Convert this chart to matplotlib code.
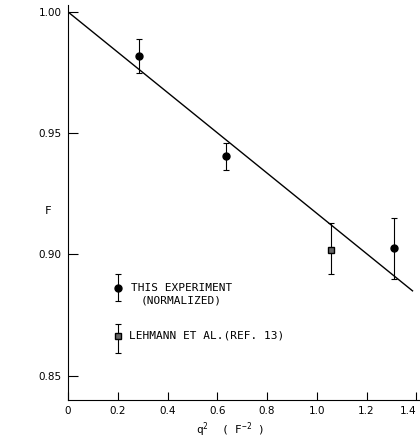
import numpy as np
import matplotlib
matplotlib.use('Agg')
import matplotlib.pyplot as plt

# data
exp_q2 = [0.285, 0.635, 1.309]
exp_F = [0.982, 0.9405, 0.9025]
exp_lo = [0.975, 0.935, 0.890]
exp_hi = [0.989, 0.946, 0.915]

leh_q2 = [1.056]
leh_F = [0.902]
leh_lo = [0.892]
leh_hi = [0.913]

# fitted line F = 1 - b*q^2
fit_q2 = [0.0, 1.385]
fit_F = [1.000, 0.885]

# legend markers drawn inside the plot
key_q2 = 0.2
key_exp = (0.886, 0.881, 0.892)  # value, low, high
key_leh = (0.8665, 0.8595, 0.8715)

plt.rcParams['font.family'] = ['DejaVu Sans']
fig = plt.figure(figsize=(4.2, 4.37), dpi=100)
ax = fig.add_axes([0.162, 0.0847, 0.835, 0.9046])

ax.plot(fit_q2, fit_F, color='black', lw=1.0)

def ebar(x, y, lo, hi, **kw):
    ax.errorbar(x, y, yerr=[np.array(y) - np.array(lo), np.array(hi) - np.array(y)],
                fmt='none', ecolor='black', elinewidth=0.8, capsize=2.5, capthick=0.8)
    ax.plot(x, y, linestyle='none', **kw)

circ = dict(marker='o', markersize=5, color='black')
sq = dict(marker='s', markersize=4.5, markerfacecolor='#666666', markeredgecolor='black', markeredgewidth=1.0)

ebar(exp_q2, exp_F, exp_lo, exp_hi, **circ)
ebar(leh_q2, leh_F, leh_lo, leh_hi, **sq)
ebar([key_q2], [key_exp[0]], [key_exp[1]], [key_exp[2]], **circ)
ebar([key_q2], [key_leh[0]], [key_leh[1]], [key_leh[2]], **sq)

mono = 'DejaVu Sans Mono'
ax.text(0.252, key_exp[0], 'THIS EXPERIMENT', fontsize=8, family=mono, va='center', ha='left')
ax.text(0.293, 0.881, '(NORMALIZED)', fontsize=8, family=mono, va='center', ha='left')
ax.text(0.245, key_leh[0], 'LEHMANN ET AL.(REF. 13)', fontsize=8, family=mono, va='center', ha='left')
ax.text(-0.08, 0.918, 'F', fontsize=8, family=mono, va='center', ha='center')

ax.set_xlim(0, 1.41)
ax.set_ylim(0.84, 1.003)
ax.set_xticks([0, 0.2, 0.4, 0.6, 0.8, 1.0, 1.2, 1.4])
ax.set_xticklabels(['0', '0.2', '0.4', '0.6', '0.8', '1.0', '1.2', '1.4'])
ax.get_xticklabels()[-1].set_ha('right')
ax.set_yticks([0.85, 0.90, 0.95, 1.00])
ax.set_yticklabels(['0.85', '0.90', '0.95', '1.00'])
ax.tick_params(axis='both', direction='in', labelsize=7.5, width=0.8)
ax.tick_params(axis='y', length=7, pad=4.5)
ax.tick_params(axis='x', length=6, pad=4)
ax.spines['top'].set_visible(False)
ax.spines['right'].set_visible(False)
for s in ['left', 'bottom']:
    ax.spines[s].set_linewidth(0.8)

ax.set_xlabel(r'q$^{\mathregular{2}}$  ( F$^{\mathregular{-2}}$ )', fontsize=8, family=mono, va='center')
ax.xaxis.set_label_coords(0.462, -0.074)

plt.savefig('out.png', dpi=100)
